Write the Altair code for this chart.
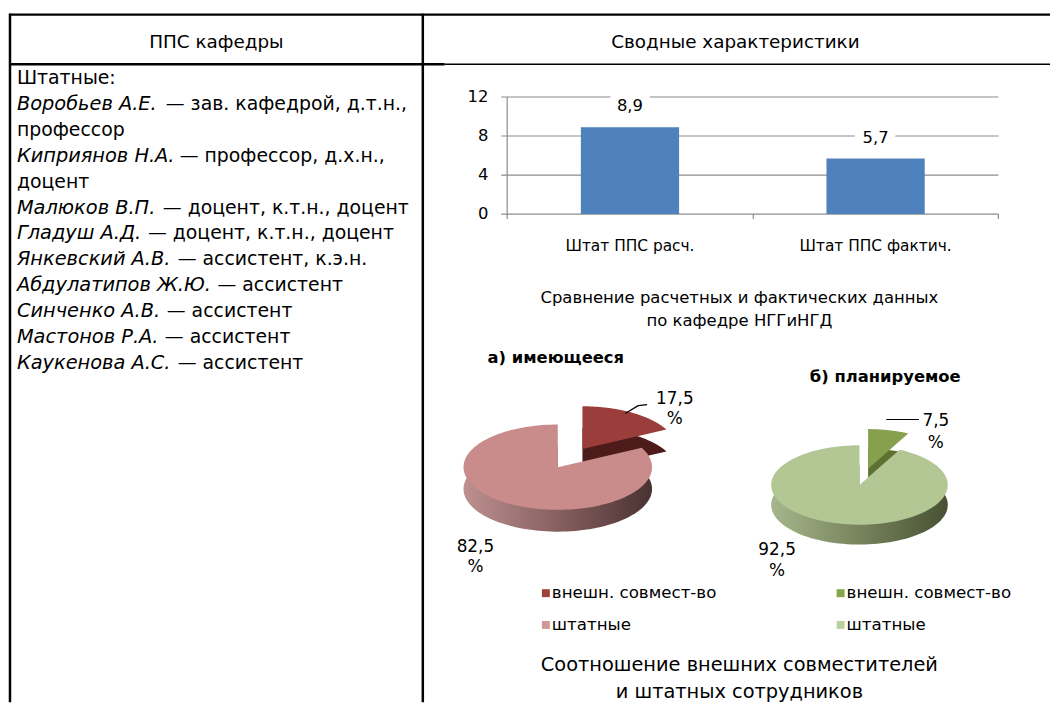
import altair as alt
import pandas as pd

# ---------------- data ----------------
header_left = "ППС кафедры"
header_right = "Сводные характеристики"
staff_italic = ["", "Воробьев А.Е.", "", "Киприянов Н.А.", "", "Малюков В.П.", "Гладуш А.Д.",
                "Янкевский А.В.", "Абдулатипов Ж.Ю.", "Синченко А.В.", "Мастонов Р.А.", "Каукенова А.С."]
staff_regular = ["Штатные:", "— зав. кафедрой, д.т.н.,", "профессор", "— профессор, д.х.н.,", "доцент",
                 "— доцент, к.т.н., доцент", "— доцент, к.т.н., доцент", "— ассистент, к.э.н.",
                 "— ассистент", "— ассистент", "— ассистент", "— ассистент"]

bar_categories = ["Штат ППС расч.", "Штат ППС фактич."]
bar_values = [8.9, 5.7]
bar_ticks = [0, 4, 8, 12]
bar_caption = ["Сравнение расчетных и фактических данных", "по кафедре НГГиНГД"]

pie_categories = ["внешн. совмест-во", "штатные"]
pie_a_values = [17.5, 82.5]
pie_b_values = [7.5, 92.5]
pie_a_title = "а) имеющееся"
pie_b_title = "б) планируемое"
pie_caption = ["Соотношение внешних совместителей", "и штатных сотрудников"]

# ---------------- layout helpers ----------------
FONT = "DejaVu Sans"
OX, OY = 8, 8


def X(v):
    return v - OX


def Y(v):
    return v - OY


one = pd.DataFrame({"d": [0]})


def hrule(x1, x2, y, w, color="black"):
    return alt.Chart(one).mark_rule(color=color, strokeWidth=w).encode(
        x=alt.value(X(x1)), x2=alt.value(X(x2)), y=alt.value(Y(y)))


def vrule(x, y1, y2, w, color="black"):
    return alt.Chart(one).mark_rule(color=color, strokeWidth=w).encode(
        x=alt.value(X(x)), y=alt.value(Y(y1)), y2=alt.value(Y(y2)))


def seg(x1, y1, x2, y2, w=1.2, color="black"):
    return alt.Chart(one).mark_rule(color=color, strokeWidth=w).encode(
        x=alt.value(X(x1)), x2=alt.value(X(x2)), y=alt.value(Y(y1)), y2=alt.value(Y(y2)))


def text(s, x, y, size, align="center", bold=False, italic=False, color="black", lh=None):
    kw = dict(align=align, baseline="middle", fontSize=size, font=FONT,
              fontWeight="bold" if bold else "normal",
              fontStyle="italic" if italic else "normal", color=color, lineBreak="\n")
    if lh is not None:
        kw["lineHeight"] = lh
    return alt.Chart(pd.DataFrame({"t": [s]})).mark_text(**kw).encode(
        text="t:N", x=alt.value(X(x)), y=alt.value(Y(y)))


layers = []

# ---------------- table frame ----------------
layers += [
    hrule(9, 1058, 12, 2.5),
    hrule(9, 448, 62, 2.5),
    hrule(448, 1058, 62, 1.5),
    vrule(10, 11, 705, 2.5),
    vrule(426, 11, 705, 2.5),
    text(header_left, 218, 40, 18.5),
    text(header_right, 741, 40, 18.5),
]

# ---------------- left column ----------------
dash_x = [None, 167, None, 181, None, 164, 149, 179, 219, 168, 166, 179]
for i, (it, rg) in enumerate(zip(staff_italic, staff_regular)):
    yy = 76 + 26.1 * i
    if it:
        layers.append(text(it, 17, yy, 19.5, align="left", italic=True))
        layers.append(text(rg, dash_x[i], yy, 19, align="left"))
    else:
        layers.append(text(rg, 17, yy, 19, align="left"))

# ---------------- bar chart ----------------
bar_df = pd.DataFrame({"cat": bar_categories, "val": bar_values})
tick_df = pd.DataFrame({"t": bar_ticks})
xs = alt.Scale(domain=bar_categories, range=[X(511), X(1006)], paddingInner=0.6, paddingOuter=0.3)
ys = alt.Scale(domain=[0, 12], range=[Y(213), Y(95)], nice=False)
GRID = "#8c8c8c"

layers.append(alt.Chart(tick_df).mark_rule(color=GRID, strokeWidth=1.2).encode(
    y=alt.Y("t:Q", scale=ys, axis=None), x=alt.value(X(505)), x2=alt.value(X(1006))))
layers.append(vrule(511, 95, 218, 1.2, GRID))
for xx in (759, 1006):
    layers.append(vrule(xx, 213, 218, 1.2, GRID))
layers.append(alt.Chart(tick_df).mark_text(align="right", baseline="middle", fontSize=16.5, font=FONT).encode(
    y=alt.Y("t:Q", scale=ys, axis=None), x=alt.value(X(492)), text="t:Q"))
layers.append(alt.Chart(bar_df).mark_bar(color="#4F81BD").encode(
    x=alt.X("cat:N", scale=xs, axis=None), y=alt.Y("val:Q", scale=ys, axis=None)))
lab = alt.Chart(bar_df).transform_calculate(lab="replace(format(datum.val, '.1f'), '.', ',')")
layers.append(lab.mark_text(baseline="middle", dy=-21, fontSize=16.5, font=FONT, stroke="white",
                            strokeWidth=18, color="white").encode(
    x=alt.X("cat:N", scale=xs, axis=None), y=alt.Y("val:Q", scale=ys, axis=None), text="lab:N"))
layers.append(lab.mark_text(baseline="middle", dy=-21, fontSize=16.5, font=FONT, color="black").encode(
    x=alt.X("cat:N", scale=xs, axis=None), y=alt.Y("val:Q", scale=ys, axis=None), text="lab:N"))
layers.append(alt.Chart(bar_df).mark_text(baseline="middle", fontSize=15.5, font=FONT).encode(
    x=alt.X("cat:N", scale=xs, axis=None), y=alt.value(Y(245)), text="cat:N"))
layers.append(text(bar_caption[0], 745, 298, 16.6))
layers.append(text(bar_caption[1], 745, 321, 16.6))


# ---------------- 3D-looking pies ----------------
def pie(values, tops, side_small, side_stops, cx, cy, a, b, thick, explode):
    df = pd.DataFrame({"c": pie_categories, "v": values, "o": [0, 1]})
    base = (alt.Chart(df)
            .transform_joinaggregate(total="sum(v)")
            .transform_window(cum="sum(v)", sort=[alt.SortField("o")], frame=[None, 0])
            .transform_calculate(s="(datum.cum - datum.v) / datum.total")
            .transform_calculate(e="datum.cum / datum.total")
            .transform_calculate(ks="sequence(0, 122)")
            .transform_flatten(["ks"], as_=["k"])
            .transform_calculate(th="2 * PI * (datum.s + (datum.e - datum.s) * (datum.k - 1) / 120)")
            .transform_calculate(mid="PI * (datum.s + datum.e)")
            .transform_calculate(ex=f"datum.o == 0 ? {explode} : 0")
            .transform_calculate(ux="datum.ex * sin(datum.mid) + (datum.k == 0 ? 0 : sin(datum.th))")
            .transform_calculate(uy="datum.ex * cos(datum.mid) + (datum.k == 0 ? 0 : cos(datum.th))"))
    xsc = alt.Scale(domain=[-1, 1], range=[X(cx - a), X(cx + a)], nice=False, zero=False)
    ysc = alt.Scale(domain=[-1, 1], range=[Y(cy + b), Y(cy - b)], nice=False, zero=False)
    enc = dict(x=alt.X("ux:Q", scale=xsc, axis=None), y=alt.Y("uy:Q", scale=ysc, axis=None),
               order=alt.Order("k:Q"))
    out = []
    for i in (0, 1):
        if i == 0:
            sfill = side_small
        else:
            sfill = alt.LinearGradient(gradient="linear", x1=0, y1=0, x2=1, y2=0,
                                       stops=[alt.GradientStop(color=c, offset=o) for o, c in side_stops])
        sub = base.transform_filter(f"datum.o == {i}")
        out.append(sub.mark_line(filled=True, interpolate="linear-closed", fill=sfill,
                                 yOffset=thick, strokeWidth=0).encode(**enc))
        out.append(sub.mark_line(filled=True, interpolate="linear-closed", fill=tops[i],
                                 strokeWidth=0).encode(**enc))
    return out


layers += pie(pie_a_values, ["#9B3E3B", "#C98C8A"], "#4D1B1A",
              [(0, "#BE9090"), (0.5, "#876060"), (1, "#4A3232")],
              562, 468, 95, 43, 22, 0.5)
layers += pie(pie_b_values, ["#86A14D", "#B3C795"], "#5D7232",
              [(0, "#A6B68C"), (0.5, "#77845C"), (1, "#485033")],
              866, 486, 89, 40, 20, 0.42)


def pct(v):
    return f"{v:.1f}".replace(".", ",") + "\n%"


layers += [
    text(pie_a_title, 560, 358, 16.5, bold=True),
    text(pie_b_title, 892, 377, 16.5, bold=True),
    seg(630, 414, 643, 406), seg(643, 406, 652, 405),
    text(pct(pie_a_values[0]), 680, 399, 17, lh=21),
    text(pct(pie_a_values[1]), 479, 548, 17, lh=21),
    seg(893, 420, 926, 420),
    text(pct(pie_b_values[0]), 943, 422, 17, lh=22),
    text(pct(pie_b_values[1]), 783, 552, 17, lh=21),
]

# legends
leg_cols_a = ["#A0403D", "#D19896"]
leg_cols_b = ["#86A44A", "#BCCF9F"]
leg_df = pd.DataFrame({"c": pie_categories})
leg_y = alt.Scale(type="point", domain=pie_categories, range=[Y(595), Y(627)], padding=0)
for sx, cols in ((550, leg_cols_a), (847, leg_cols_b)):
    layers.append(alt.Chart(leg_df).mark_square(size=64, opacity=1).encode(
        x=alt.value(X(sx)), y=alt.Y("c:N", scale=leg_y, axis=None),
        color=alt.Color("c:N", scale=alt.Scale(domain=pie_categories, range=cols), legend=None)))
    layers.append(alt.Chart(leg_df).mark_text(align="left", baseline="middle", fontSize=16.8, font=FONT).encode(
        x=alt.value(X(sx + 6)), y=alt.Y("c:N", scale=leg_y, axis=None), text="c:N"))

layers.append(text(pie_caption[0], 745, 667, 19.5))
layers.append(text(pie_caption[1], 745, 695, 19.5))

chart = (alt.layer(*layers)
         .resolve_scale(x="independent", y="independent", color="independent")
         .properties(width=1050, height=697, padding=0,
                     autosize=alt.AutoSizeParams(type="none"), background="white")
         .configure_view(strokeWidth=0))

chart.save("out.html", embed_options={"renderer": "svg", "actions": False})
